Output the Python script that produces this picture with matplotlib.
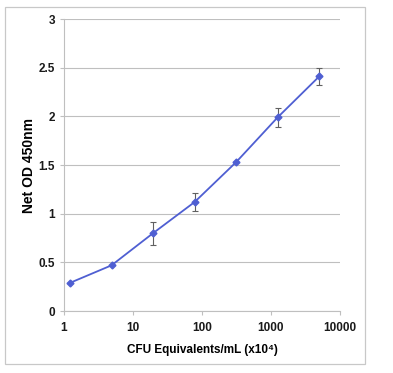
import numpy as np
import matplotlib
matplotlib.use("Agg")
import matplotlib.pyplot as plt
from matplotlib.patches import Rectangle

plt.rcParams['font.family'] = ['Liberation Sans', 'DejaVu Sans']

# data
cfu = [1.22, 4.88, 19.5, 78.1, 312.5, 1250, 5000]
od = [0.29, 0.47, 0.80, 1.12, 1.53, 1.99, 2.41]
od_err = [0.0, 0.0, 0.12, 0.09, 0.0, 0.10, 0.085]

xticks = [1, 10, 100, 1000, 10000]
xticklabels = ["1", "10", "100", "1000", "10000"]
yticks = [0, 0.5, 1, 1.5, 2, 2.5, 3]
yticklabels = ["0", "0.5", "1", "1.5", "2", "2.5", "3"]

fig = plt.figure(figsize=(3.93, 3.73), dpi=100)
ax = fig.add_axes([0.163, 0.166, 0.702, 0.783])

# outer chart border
fig.patches.append(Rectangle((0.0127, 0.024), 0.916, 0.957, transform=fig.transFigure,
                             fill=False, edgecolor="#c8c8c8", linewidth=0.9))

ax.errorbar(cfu, od, yerr=od_err, color="#4f5fd2", linewidth=1.3, marker="D",
            markersize=3.5, ecolor="#606060", elinewidth=0.8, capsize=2.5, capthick=0.8,
            zorder=3)

ax.set_xscale("log")
ax.set_xlim(1, 10000)
ax.set_ylim(0, 3)
ax.set_xticks(xticks)
ax.set_xticklabels(xticklabels)
ax.xaxis.set_minor_locator(matplotlib.ticker.NullLocator())
ax.set_yticks(yticks)
ax.set_yticklabels(yticklabels)

ax.grid(axis="y", color="#bfbfbf", linewidth=0.8)
ax.set_axisbelow(True)
for s in ["top", "right"]:
    ax.spines[s].set_visible(False)
for s in ["left", "bottom"]:
    ax.spines[s].set_color("#bfbfbf")
    ax.spines[s].set_linewidth(0.8)
ax.tick_params(axis="both", color="#bfbfbf", length=3, width=0.8,
               labelsize=8.5, labelcolor="#1a1a1a")
ax.tick_params(axis="x", pad=5)
for lab in ax.get_xticklabels() + ax.get_yticklabels():
    lab.set_fontweight("bold")

ax.set_xlabel("CFU Equivalents/mL (x10⁴)", fontsize=8.5, fontweight="bold", labelpad=7)
ax.set_ylabel("Net OD 450nm", fontsize=10, fontweight="bold", labelpad=2)

fig.savefig("out.png", dpi=100)
